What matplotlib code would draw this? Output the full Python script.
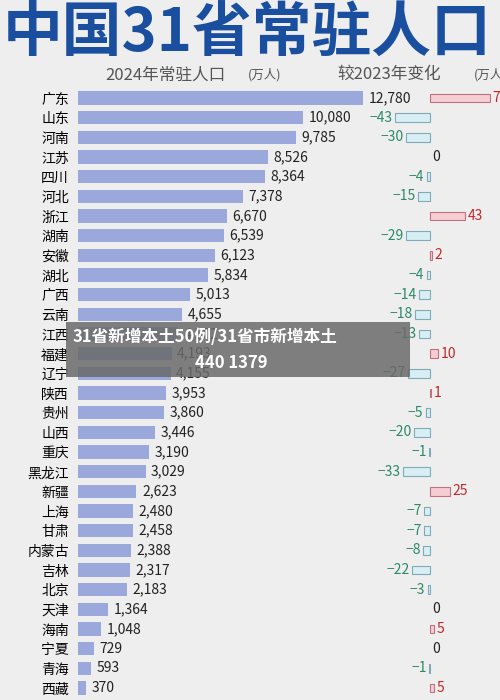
import matplotlib.pyplot as plt
from matplotlib.patches import Rectangle

plt.rcParams['font.family'] = ['Noto Sans CJK SC', 'DejaVu Sans']

provinces = ['广东', '山东', '河南', '江苏', '四川', '河北', '浙江', '湖南', '安徽', '湖北',
             '广西', '云南', '江西', '福建', '辽宁', '陕西', '贵州', '山西', '重庆', '黑龙江',
             '新疆', '上海', '甘肃', '内蒙古', '吉林', '北京', '天津', '海南', '宁夏', '青海', '西藏']
population = [12780, 10080, 9785, 8526, 8364, 7378, 6670, 6539, 6123, 5834,
              5013, 4655, 4502, 4193, 4155, 3953, 3860, 3446, 3190, 3029,
              2623, 2480, 2458, 2388, 2317, 2183, 1364, 1048, 729, 593, 370]
change = [74, -43, -30, 0, -4, -15, 43, -29, 2, -4,
          -14, -18, -13, 10, -27, 1, -5, -20, -1, -33,
          25, -7, -7, -8, -22, -3, 0, 5, 0, -1, 5]

BG = '#efeeee'
fig = plt.figure(figsize=(5, 7), dpi=100, facecolor=BG)

fig.text(0.005, 0.952, '中国31省常驻人口', fontsize=43, fontweight='bold',
         color='#1a4fa0', va='center', ha='left')
fig.text(0.21, 0.893, '2024年常驻人口', fontsize=12, color='#555555', va='center')
fig.text(0.495, 0.893, '(万人)', fontsize=9, color='#555555', va='center', style='italic')
fig.text(0.675, 0.893, '较2023年变化', fontsize=12, color='#555555', va='center')
fig.text(0.948, 0.893, '(万人)', fontsize=9, color='#555555', va='center', style='italic')

y = list(range(len(provinces)))

ax1 = fig.add_axes([0.156, 0.003, 0.57, 0.871])
ax1.barh(y, population, height=0.68, color='#9aa8dc')
ax1.set_xlim(0, 12780)
ax1.set_ylim(len(provinces) - 0.5, -0.5)
ax1.set_yticks(y)
ax1.set_yticklabels(provinces, fontsize=10)
ax1.tick_params(left=False, bottom=False, labelbottom=False, pad=3)
for s in ax1.spines.values():
    s.set_visible(False)
ax1.set_facecolor('none')
for i, v in enumerate(population):
    ax1.text(v + 250, i, f'{v:,}', va='center', fontsize=10, color='#222222', clip_on=False)

ax2 = fig.add_axes([0.76, 0.003, 0.2, 0.871])
ax2.set_xlim(-61.5, 61.5)
ax2.set_ylim(len(provinces) - 0.5, -0.5)
ax2.axis('off')
for i, c in enumerate(change):
    if c > 0:
        ax2.barh(i, c, height=0.45, color='#f6cdd3', edgecolor='#c07080', linewidth=0.8,
                 clip_on=False)
        ax2.text(c + 3, i, str(c), va='center', ha='left', fontsize=10,
                 color='#c0282a', style='italic', clip_on=False)
    elif c < 0:
        ax2.barh(i, c, height=0.45, color='#d6eef4', edgecolor='#80aab8', linewidth=0.8)
        ax2.text(c - 3, i, f'−{-c}', va='center', ha='right', fontsize=10,
                 color='#2a8a6a', style='italic')
    else:
        ax2.text(3, i, '0', va='center', ha='left', fontsize=10, color='#222222')

# news overlay banner
fig.patches.append(Rectangle((0.132, 0.462), 0.688, 0.078, transform=fig.transFigure,
                             facecolor='#6a6a6a', alpha=0.85, edgecolor='none'))
fig.text(0.145, 0.519, '31省新增本土50例/31省市新增本土', fontsize=12, fontweight='bold',
         color='white', va='center')
fig.text(0.39, 0.481, '440 1379', fontsize=12, fontweight='bold', color='white', va='center')

fig.savefig('out.png', dpi=100, facecolor=BG)
